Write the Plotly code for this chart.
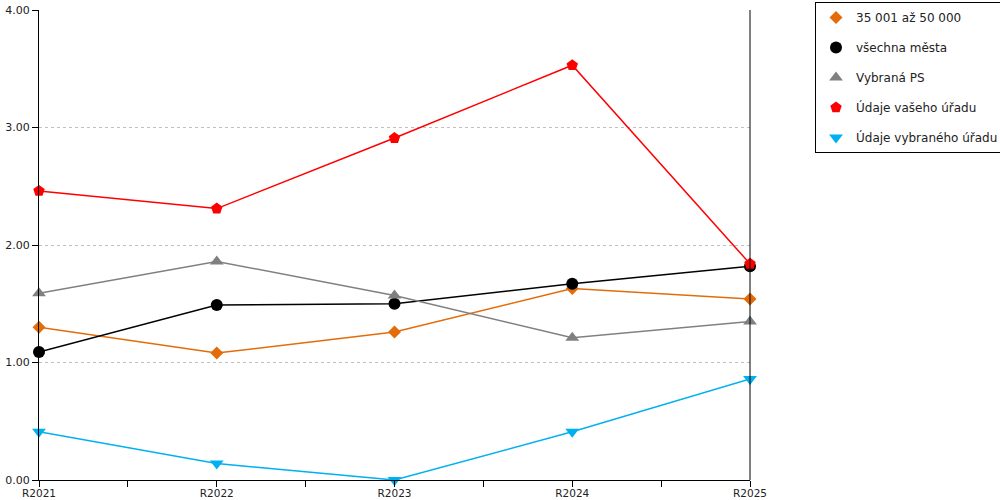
import plotly.graph_objects as go

# Data
years = ['R2021', 'R2022', 'R2023', 'R2024', 'R2025']
series_names = ['35 001 až 50 000', 'všechna města', 'Vybraná PS',
                'Údaje vašeho úřadu', 'Údaje vybraného úřadu']
pop_35_50 = [1.30, 1.08, 1.26, 1.63, 1.54]
all_towns = [1.09, 1.49, 1.50, 1.67, 1.82]
chosen_ps = [1.59, 1.86, 1.57, 1.21, 1.35]
your_office = [2.46, 2.31, 2.91, 3.53, 1.84]
chosen_office = [0.41, 0.14, 0.00, 0.41, 0.86]

values = [pop_35_50, all_towns, chosen_ps, your_office, chosen_office]
colors = ['#E36C0A', '#000000', '#808080', '#FF0000', '#00B0F0']
symbols = ['diamond', 'circle', 'triangle-up', 'pentagon', 'triangle-down']
sizes = [10, 12, 12, 12, 12]

x_pos = list(range(len(years)))

fig = go.Figure()
for i, name in enumerate(series_names):
    # line only, kept out of the legend
    fig.add_trace(go.Scatter(
        x=x_pos, y=values[i], mode='lines', showlegend=False,
        legendgroup=name, hoverinfo='skip',
        line=dict(color=colors[i], width=1.5),
    ))
    # markers, shown in the legend (marker only, like the original)
    fig.add_trace(go.Scatter(
        x=x_pos, y=values[i], name=name, mode='markers',
        legendgroup=name,
        marker=dict(symbol=symbols[i], size=sizes[i], color=colors[i]),
        cliponaxis=False,
    ))

fig.update_layout(
    width=1000, height=500,
    margin=dict(l=39, r=250, t=10, b=20, autoexpand=False),
    plot_bgcolor='white', paper_bgcolor='white',
    font=dict(family='DejaVu Sans', size=12, color='#222222'),
    legend=dict(
        xref='container', yref='container',
        x=0.815, y=0.996, xanchor='left', yanchor='top',
        bordercolor='black', borderwidth=1,
        tracegroupgap=11, font=dict(size=12),
        itemwidth=30,
    ),
    xaxis=dict(
        range=[0, 4], tickvals=x_pos, ticktext=years,
        showgrid=False, zeroline=False, automargin=False,
        showline=True, linecolor='black', linewidth=1,
        ticks='outside', ticklen=6, tickcolor='black',
        ticklabelstandoff=-3,
        minor=dict(tickvals=[0.5, 1.5, 2.5, 3.5], ticks='outside',
                   ticklen=6, tickcolor='black'),
        tickfont=dict(size=10.5),
    ),
    yaxis=dict(
        range=[0, 4], tickvals=[0, 1, 2, 3, 4], tickformat='.2f',
        showgrid=True, gridcolor='#c0c0c0', griddash='dot', gridwidth=1,
        zeroline=False, automargin=False,
        showline=True, linecolor='black', linewidth=1,
        ticks='outside', ticklen=6, tickcolor='black',
        tickfont=dict(size=11),
    ),
    shapes=[dict(type='line', xref='paper', yref='paper',
                 x0=1, x1=1, y0=0, y1=1,
                 line=dict(color='black', width=1))],
)

# drop the page's default body margin so the chart sits at the top-left
fig.write_html("out.html", config={'displayModeBar': False},
               post_script="document.body.style.margin='0';")
